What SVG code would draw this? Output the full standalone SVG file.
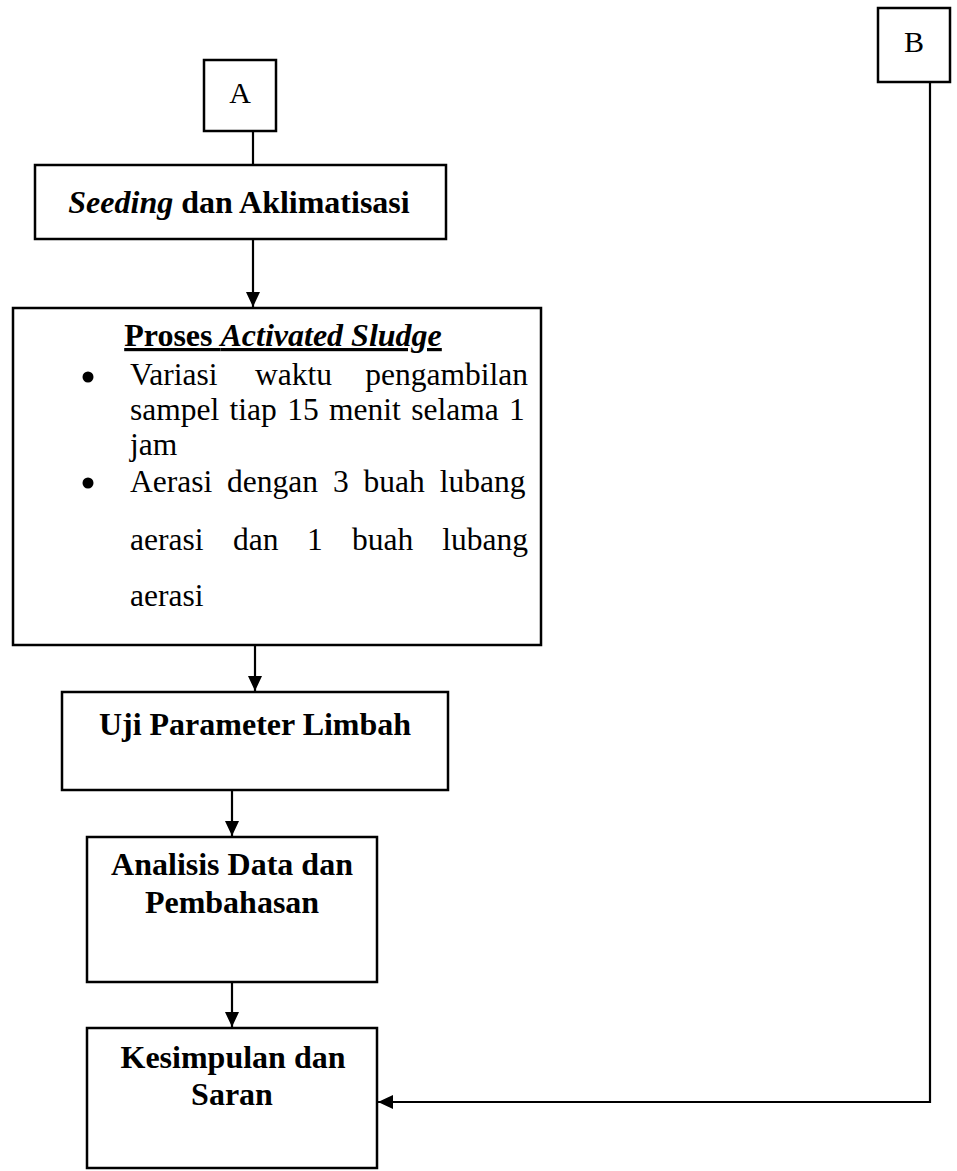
<svg xmlns="http://www.w3.org/2000/svg" width="957" height="1171" viewBox="0 0 957 1171">
<style>
.box{fill:#fff;stroke:#000;stroke-width:2.5}
.t{font-family:"Liberation Serif","Times New Roman",serif;fill:#000}
.b{font-weight:bold}
.lbl{font-size:32px;text-anchor:middle}
.body{font-size:31.5px}
.conn{stroke:#000;stroke-width:2.2;fill:none}
</style>
<defs>
<marker id="arr" markerUnits="userSpaceOnUse" markerWidth="16" markerHeight="16" viewBox="0 0 16 16" refX="15" refY="8" orient="auto">
<path d="M0,1 L15,8 L0,15 Z" fill="#000"/>
</marker>
</defs>
<rect width="957" height="1171" fill="#fff"/>
<g id="connectors">
<line class="conn" x1="253" y1="131" x2="253" y2="165"/>
<line class="conn" x1="253" y1="239" x2="253" y2="307" marker-end="url(#arr)"/>
<line class="conn" x1="255" y1="645" x2="255" y2="691" marker-end="url(#arr)"/>
<line class="conn" x1="232" y1="790" x2="232" y2="836" marker-end="url(#arr)"/>
<line class="conn" x1="232" y1="982" x2="232" y2="1027" marker-end="url(#arr)"/>
<polyline class="conn" points="930,82 930,1102 378,1102" marker-end="url(#arr)"/>
</g>
<g id="node-A">
<rect class="box" x="204" y="60" width="72" height="71"/>
<text class="t lbl" x="240" y="103" style="font-size:30px">A</text>
</g>
<g id="node-B">
<rect class="box" x="878" y="8" width="72" height="74"/>
<text class="t lbl" x="914" y="52" style="font-size:30px">B</text>
</g>
<g id="node-seeding">
<rect class="box" x="35" y="165" width="411" height="74"/>
<text class="t lbl b" x="239" y="213"><tspan font-style="italic">Seeding</tspan> dan Aklimatisasi</text>
</g>
<g id="node-proses">
<rect class="box" x="13" y="308" width="528" height="337"/>
<text class="t lbl b" x="283" y="346" text-decoration="underline">Proses <tspan font-style="italic">Activated Sludge</tspan></text>
<circle cx="88" cy="377" r="5.5" fill="#000"/>
<circle cx="88" cy="483" r="5.5" fill="#000"/>
<text class="t body" y="385"><tspan x="130">Variasi</tspan><tspan x="255">waktu</tspan></text>
<text class="t body" x="528" y="385" text-anchor="end">pengambilan</text>
<text class="t body" x="130" y="420" word-spacing="2.5">sampel tiap 15 menit selama 1</text>
<text class="t body" x="130" y="455">jam</text>
<text class="t body" x="130" y="492" word-spacing="7">Aerasi dengan 3 buah lubang</text>
<text class="t body" y="550"><tspan x="130">aerasi</tspan><tspan x="233">dan</tspan><tspan x="307">1</tspan><tspan x="352">buah</tspan></text>
<text class="t body" x="528" y="550" text-anchor="end">lubang</text>
<text class="t body" x="130" y="606">aerasi</text>
</g>
<g id="node-uji">
<rect class="box" x="62" y="692" width="386" height="98"/>
<text class="t lbl b" x="255" y="735">Uji Parameter Limbah</text>
</g>
<g id="node-analisis">
<rect class="box" x="87" y="837" width="290" height="145"/>
<text class="t lbl b" x="232" y="875">Analisis Data dan</text>
<text class="t lbl b" x="232" y="913">Pembahasan</text>
</g>
<g id="node-kesimpulan">
<rect class="box" x="87" y="1028" width="290" height="140"/>
<text class="t lbl b" x="233" y="1068">Kesimpulan dan</text>
<text class="t lbl b" x="232" y="1105">Saran</text>
</g>
</svg>
